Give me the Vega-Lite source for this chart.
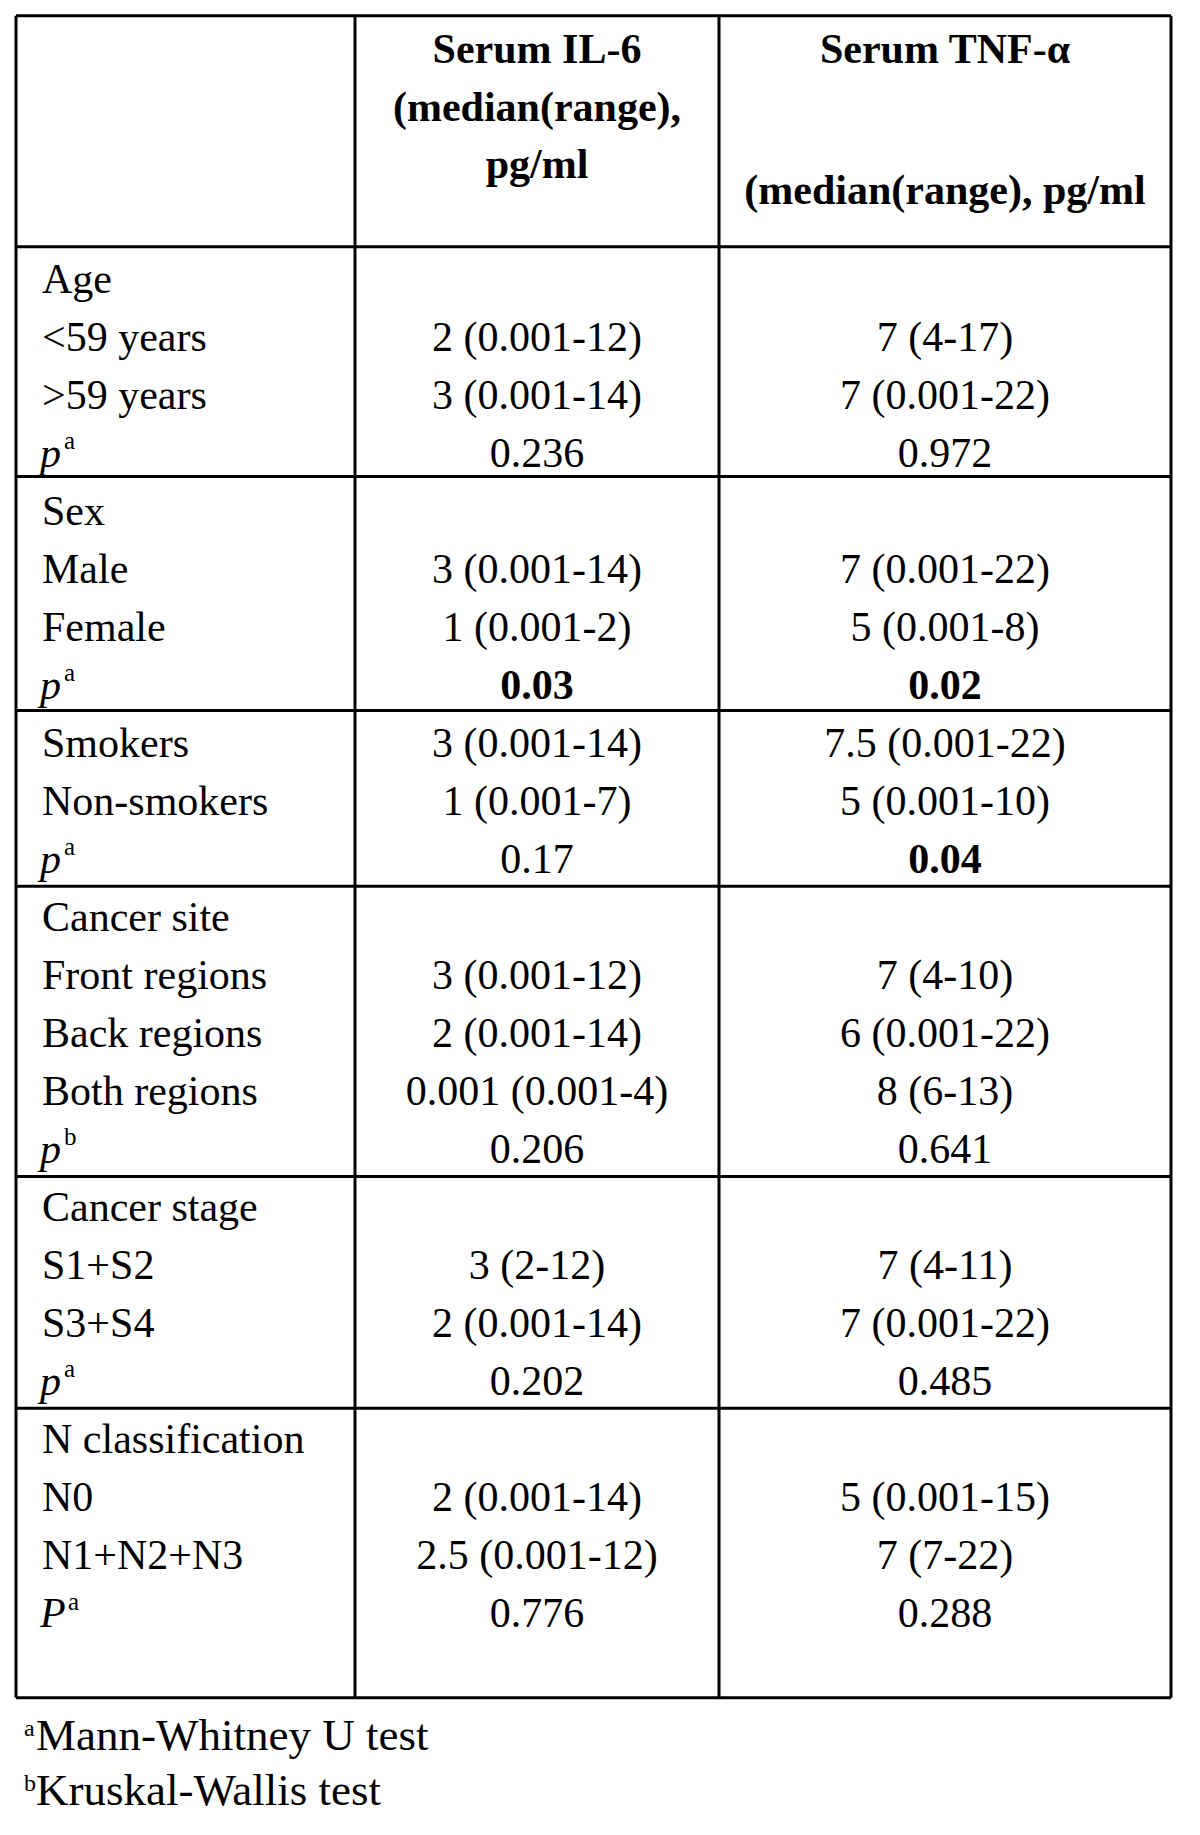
{
  "$schema": "https://vega.github.io/schema/vega-lite/v6.json",
  "width": 1200,
  "height": 1835,
  "autosize": {"type": "none"},
  "padding": 0,
  "background": "white",
  "config": {"view": {"stroke": null}, "text": {"font": "Liberation Serif", "color": "black"}},
  "datasets": {
    "header": [
      {"row": -3.96, "il6": "Serum IL-6", "tnf": "Serum TNF-α"},
      {"row": -2.971, "il6": "(median(range),", "tnf": ""},
      {"row": -1.983, "il6": "pg/ml", "tnf": ""},
      {"row": -1.534, "il6": "", "tnf": "(median(range), pg/ml"}
    ],
    "rows": [
      {"row": 0, "label": "Age", "il6": "", "tnf": "", "sig_il6": false, "sig_tnf": false},
      {"row": 1, "label": "<59 years", "il6": "2 (0.001-12)", "tnf": "7 (4-17)", "sig_il6": false, "sig_tnf": false},
      {"row": 2, "label": ">59 years", "il6": "3 (0.001-14)", "tnf": "7 (0.001-22)", "sig_il6": false, "sig_tnf": false},
      {"row": 3, "p": "p", "sup": "a", "il6": "0.236", "tnf": "0.972", "sig_il6": false, "sig_tnf": false},
      {"row": 4, "label": "Sex", "il6": "", "tnf": "", "sig_il6": false, "sig_tnf": false},
      {"row": 5, "label": "Male", "il6": "3 (0.001-14)", "tnf": "7 (0.001-22)", "sig_il6": false, "sig_tnf": false},
      {"row": 6, "label": "Female", "il6": "1 (0.001-2)", "tnf": "5 (0.001-8)", "sig_il6": false, "sig_tnf": false},
      {"row": 7, "p": "p", "sup": "a", "il6": "0.03", "tnf": "0.02", "sig_il6": true, "sig_tnf": true},
      {"row": 8, "label": "Smokers", "il6": "3 (0.001-14)", "tnf": "7.5 (0.001-22)", "sig_il6": false, "sig_tnf": false},
      {"row": 9, "label": "Non-smokers", "il6": "1 (0.001-7)", "tnf": "5 (0.001-10)", "sig_il6": false, "sig_tnf": false},
      {"row": 10, "p": "p", "sup": "a", "il6": "0.17", "tnf": "0.04", "sig_il6": false, "sig_tnf": true},
      {"row": 11, "label": "Cancer site", "il6": "", "tnf": "", "sig_il6": false, "sig_tnf": false},
      {"row": 12, "label": "Front regions", "il6": "3 (0.001-12)", "tnf": "7 (4-10)", "sig_il6": false, "sig_tnf": false},
      {"row": 13, "label": "Back regions", "il6": "2 (0.001-14)", "tnf": "6 (0.001-22)", "sig_il6": false, "sig_tnf": false},
      {"row": 14, "label": "Both regions", "il6": "0.001 (0.001-4)", "tnf": "8 (6-13)", "sig_il6": false, "sig_tnf": false},
      {"row": 15, "p": "p", "sup": "b", "il6": "0.206", "tnf": "0.641", "sig_il6": false, "sig_tnf": false},
      {"row": 16, "label": "Cancer stage", "il6": "", "tnf": "", "sig_il6": false, "sig_tnf": false},
      {"row": 17, "label": "S1+S2", "il6": "3 (2-12)", "tnf": "7 (4-11)", "sig_il6": false, "sig_tnf": false},
      {"row": 18, "label": "S3+S4", "il6": "2 (0.001-14)", "tnf": "7 (0.001-22)", "sig_il6": false, "sig_tnf": false},
      {"row": 19, "p": "p", "sup": "a", "il6": "0.202", "tnf": "0.485", "sig_il6": false, "sig_tnf": false},
      {"row": 20, "label": "N classification", "il6": "", "tnf": "", "sig_il6": false, "sig_tnf": false},
      {"row": 21, "label": "N0", "il6": "2 (0.001-14)", "tnf": "5 (0.001-15)", "sig_il6": false, "sig_tnf": false},
      {"row": 22, "label": "N1+N2+N3", "il6": "2.5 (0.001-12)", "tnf": "7 (7-22)", "sig_il6": false, "sig_tnf": false},
      {"row": 23, "p": "P", "sup": "a", "il6": "0.776", "tnf": "0.288", "sig_il6": false, "sig_tnf": false}
    ],
    "hlines": [
      {"row": -4.781}, {"row": -0.798}, {"row": 3.164}, {"row": 7.2}, {"row": 10.228},
      {"row": 15.234}, {"row": 19.229}, {"row": 24.22}
    ],
    "notes": [
      {"row": 25.12, "sup": "a", "note": "Mann-Whitney U test"},
      {"row": 26.07, "sup": "b", "note": "Kruskal-Wallis test"}
    ]
  },
  "layer": [
    {
      "data": {"name": "hlines"},
      "mark": {"type": "rule", "color": "black", "strokeWidth": 3},
      "encoding": {
        "x": {"datum": 16, "type": "quantitative", "scale": {"domain": [0, 1200], "nice": false, "zero": false}, "axis": null},
        "x2": {"datum": 1171},
        "y": {"field": "row", "type": "quantitative", "scale": {"domain": [-5.0517, 26.586], "reverse": true, "nice": false, "zero": false}, "axis": null}
      }
    },
    {
      "data": {"values": [{"edge": "left", "col": 16}, {"edge": "div1", "col": 355}, {"edge": "div2", "col": 719}, {"edge": "right", "col": 1171}]},
      "mark": {"type": "rule", "color": "black", "strokeWidth": 3},
      "encoding": {
        "x": {"field": "col", "type": "quantitative", "scale": {"domain": [0, 1200], "nice": false, "zero": false}, "axis": null},
        "y": {"datum": -4.781, "type": "quantitative", "scale": {"domain": [-5.0517, 26.586], "reverse": true, "nice": false, "zero": false}, "axis": null},
        "y2": {"datum": 24.22}
      }
    },
    {
      "data": {"name": "header"},
      "transform": [{"filter": "datum.il6 != ''"}],
      "mark": {"type": "text", "align": "center", "baseline": "alphabetic", "fontSize": 42, "fontWeight": "bold"},
      "encoding": {
        "x": {"datum": 537, "type": "quantitative", "scale": {"domain": [0, 1200], "nice": false, "zero": false}, "axis": null},
        "y": {"field": "row", "type": "quantitative", "scale": {"domain": [-5.0517, 26.586], "reverse": true, "nice": false, "zero": false}, "axis": null},
        "text": {"field": "il6"}
      }
    },
    {
      "data": {"name": "header"},
      "transform": [{"filter": "datum.tnf != ''"}],
      "mark": {"type": "text", "align": "center", "baseline": "alphabetic", "fontSize": 42, "fontWeight": "bold"},
      "encoding": {
        "x": {"datum": 945, "type": "quantitative", "scale": {"domain": [0, 1200], "nice": false, "zero": false}, "axis": null},
        "y": {"field": "row", "type": "quantitative", "scale": {"domain": [-5.0517, 26.586], "reverse": true, "nice": false, "zero": false}, "axis": null},
        "text": {"field": "tnf"}
      }
    },
    {
      "data": {"name": "rows"},
      "transform": [{"filter": "datum.label"}],
      "mark": {"type": "text", "align": "left", "baseline": "alphabetic", "fontSize": 42},
      "encoding": {
        "x": {"datum": 42, "type": "quantitative", "scale": {"domain": [0, 1200], "nice": false, "zero": false}, "axis": null},
        "y": {"field": "row", "type": "quantitative", "scale": {"domain": [-5.0517, 26.586], "reverse": true, "nice": false, "zero": false}, "axis": null},
        "text": {"field": "label"}
      }
    },
    {
      "data": {"name": "rows"},
      "transform": [{"filter": "datum.p"}],
      "mark": {"type": "text", "align": "left", "baseline": "alphabetic", "fontSize": 42, "fontStyle": "italic"},
      "encoding": {
        "x": {"datum": 40, "type": "quantitative", "scale": {"domain": [0, 1200], "nice": false, "zero": false}, "axis": null},
        "y": {"field": "row", "type": "quantitative", "scale": {"domain": [-5.0517, 26.586], "reverse": true, "nice": false, "zero": false}, "axis": null},
        "text": {"field": "p"}
      }
    },
    {
      "data": {"name": "rows"},
      "transform": [{"filter": "datum.p == 'p'"}],
      "mark": {"type": "text", "align": "left", "baseline": "alphabetic", "fontSize": 25, "dy": -18},
      "encoding": {
        "x": {"datum": 64, "type": "quantitative", "scale": {"domain": [0, 1200], "nice": false, "zero": false}, "axis": null},
        "y": {"field": "row", "type": "quantitative", "scale": {"domain": [-5.0517, 26.586], "reverse": true, "nice": false, "zero": false}, "axis": null},
        "text": {"field": "sup"}
      }
    },
    {
      "data": {"name": "rows"},
      "transform": [{"filter": "datum.p == 'P'"}],
      "mark": {"type": "text", "align": "left", "baseline": "alphabetic", "fontSize": 25, "dy": -17},
      "encoding": {
        "x": {"datum": 68, "type": "quantitative", "scale": {"domain": [0, 1200], "nice": false, "zero": false}, "axis": null},
        "y": {"field": "row", "type": "quantitative", "scale": {"domain": [-5.0517, 26.586], "reverse": true, "nice": false, "zero": false}, "axis": null},
        "text": {"field": "sup"}
      }
    },
    {
      "data": {"name": "rows"},
      "transform": [{"filter": "datum.il6 != '' && !datum.sig_il6"}],
      "mark": {"type": "text", "align": "center", "baseline": "alphabetic", "fontSize": 42},
      "encoding": {
        "x": {"datum": 537, "type": "quantitative", "scale": {"domain": [0, 1200], "nice": false, "zero": false}, "axis": null},
        "y": {"field": "row", "type": "quantitative", "scale": {"domain": [-5.0517, 26.586], "reverse": true, "nice": false, "zero": false}, "axis": null},
        "text": {"field": "il6"}
      }
    },
    {
      "data": {"name": "rows"},
      "transform": [{"filter": "datum.sig_il6"}],
      "mark": {"type": "text", "align": "center", "baseline": "alphabetic", "fontSize": 42, "fontWeight": "bold"},
      "encoding": {
        "x": {"datum": 537, "type": "quantitative", "scale": {"domain": [0, 1200], "nice": false, "zero": false}, "axis": null},
        "y": {"field": "row", "type": "quantitative", "scale": {"domain": [-5.0517, 26.586], "reverse": true, "nice": false, "zero": false}, "axis": null},
        "text": {"field": "il6"}
      }
    },
    {
      "data": {"name": "rows"},
      "transform": [{"filter": "datum.tnf != '' && !datum.sig_tnf"}],
      "mark": {"type": "text", "align": "center", "baseline": "alphabetic", "fontSize": 42},
      "encoding": {
        "x": {"datum": 945, "type": "quantitative", "scale": {"domain": [0, 1200], "nice": false, "zero": false}, "axis": null},
        "y": {"field": "row", "type": "quantitative", "scale": {"domain": [-5.0517, 26.586], "reverse": true, "nice": false, "zero": false}, "axis": null},
        "text": {"field": "tnf"}
      }
    },
    {
      "data": {"name": "rows"},
      "transform": [{"filter": "datum.sig_tnf"}],
      "mark": {"type": "text", "align": "center", "baseline": "alphabetic", "fontSize": 42, "fontWeight": "bold"},
      "encoding": {
        "x": {"datum": 945, "type": "quantitative", "scale": {"domain": [0, 1200], "nice": false, "zero": false}, "axis": null},
        "y": {"field": "row", "type": "quantitative", "scale": {"domain": [-5.0517, 26.586], "reverse": true, "nice": false, "zero": false}, "axis": null},
        "text": {"field": "tnf"}
      }
    },
    {
      "data": {"name": "notes"},
      "mark": {"type": "text", "align": "left", "baseline": "alphabetic", "fontSize": 24, "dy": -14},
      "encoding": {
        "x": {"datum": 24, "type": "quantitative", "scale": {"domain": [0, 1200], "nice": false, "zero": false}, "axis": null},
        "y": {"field": "row", "type": "quantitative", "scale": {"domain": [-5.0517, 26.586], "reverse": true, "nice": false, "zero": false}, "axis": null},
        "text": {"field": "sup"}
      }
    },
    {
      "data": {"name": "notes"},
      "mark": {"type": "text", "align": "left", "baseline": "alphabetic", "fontSize": 45},
      "encoding": {
        "x": {"datum": 36, "type": "quantitative", "scale": {"domain": [0, 1200], "nice": false, "zero": false}, "axis": null},
        "y": {"field": "row", "type": "quantitative", "scale": {"domain": [-5.0517, 26.586], "reverse": true, "nice": false, "zero": false}, "axis": null},
        "text": {"field": "note"}
      }
    }
  ]
}
